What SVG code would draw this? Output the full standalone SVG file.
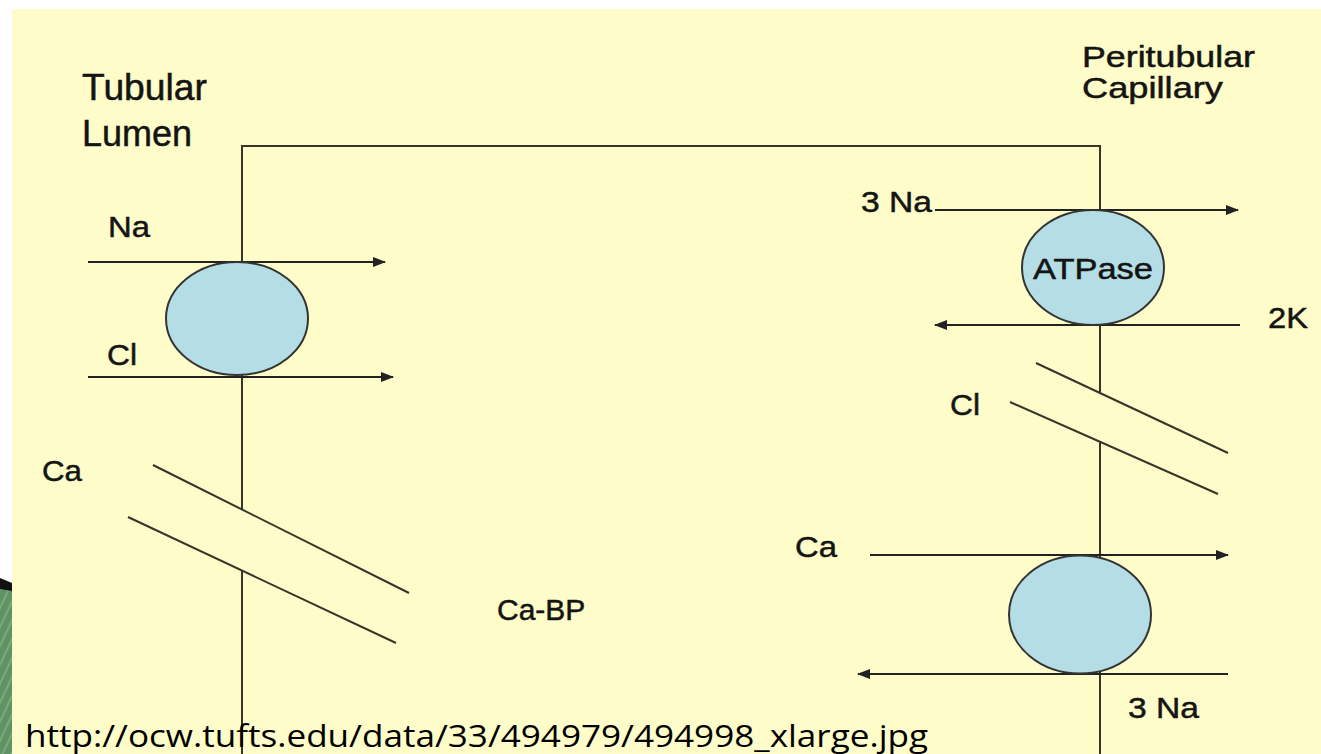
<svg xmlns="http://www.w3.org/2000/svg" width="1321" height="754" viewBox="0 0 1321 754">
<defs>
<marker id="ah" markerWidth="13" markerHeight="10" refX="12" refY="5" orient="auto" markerUnits="userSpaceOnUse">
<path d="M0,0 L13,5 L0,10 z" fill="#222"/>
</marker>
<pattern id="stripes" width="8" height="8" patternUnits="userSpaceOnUse" patternTransform="rotate(25)">
<rect width="8" height="8" fill="#5f9365"/>
<rect width="2" height="8" fill="#7aaa7c"/>
</pattern>
<style>
.ln{stroke:#35352a;stroke-width:2;fill:none}
.ar{stroke:#222;stroke-width:2;fill:none;marker-end:url(#ah)}
.cell{fill:#b5dde5;stroke:#333;stroke-width:2}
.lb{font-family:"Liberation Sans",Arial,sans-serif;font-size:30px;fill:#141414;stroke:#141414;stroke-width:0.5}
.hd{font-family:"Liberation Sans",Arial,sans-serif;font-size:37px;fill:#141414;stroke:#141414;stroke-width:0.5}
.url{font-family:"Open Sans","DejaVu Sans",sans-serif;font-size:31px;fill:#000}
</style>
</defs>
<rect width="1321" height="754" fill="#ffffff"/>
<rect x="12" y="9" width="1309" height="745" fill="#fefcc8"/>
<g id="decoration">
<rect x="0" y="586" width="12" height="168" fill="url(#stripes)"/>
<polygon points="0,578 12,583 12,591 0,589" fill="#111"/>
</g>
<g id="connectors">
<path class="ln" d="M242,509 L242,146 L1100,146 L1100,393"/>
<line class="ln" x1="242" y1="571" x2="242" y2="754"/>
<line class="ln" x1="1100" y1="442" x2="1100" y2="754"/>
<line class="ln" x1="153" y1="465" x2="409" y2="593"/>
<line class="ln" x1="128" y1="517" x2="396" y2="643"/>
<line class="ln" x1="1036" y1="363" x2="1228" y2="453"/>
<line class="ln" x1="1010" y1="402" x2="1218" y2="494"/>
<line class="ar" x1="88" y1="262" x2="385" y2="262"/>
<line class="ar" x1="88" y1="377" x2="393" y2="377"/>
<line class="ar" x1="935" y1="210" x2="1238" y2="210"/>
<line class="ar" x1="1240" y1="325" x2="935" y2="325"/>
<line class="ar" x1="870" y1="555" x2="1228" y2="555"/>
<line class="ar" x1="1228" y1="674" x2="858" y2="674"/>
</g>
<g id="cotransporter-left">
<ellipse class="cell" cx="237" cy="318.5" rx="71" ry="56.5"/>
</g>
<g id="atpase">
<ellipse class="cell" cx="1093" cy="267.5" rx="71" ry="57.5"/>
<text class="lb" x="1033" y="279" textLength="120" lengthAdjust="spacingAndGlyphs">ATPase</text>
</g>
<g id="exchanger-right">
<ellipse class="cell" cx="1080" cy="614.5" rx="71" ry="59"/>
</g>
<g id="labels">
<text class="hd" x="82" y="100" textLength="125" lengthAdjust="spacingAndGlyphs">Tubular</text>
<text class="hd" x="82" y="146" textLength="110" lengthAdjust="spacingAndGlyphs">Lumen</text>
<text class="lb" x="1082" y="67" textLength="173" lengthAdjust="spacingAndGlyphs">Peritubular</text>
<text class="lb" x="1082" y="98" textLength="141" lengthAdjust="spacingAndGlyphs">Capillary</text>
<text class="lb" x="108" y="237" textLength="42" lengthAdjust="spacingAndGlyphs">Na</text>
<text class="lb" x="107" y="365" textLength="30" lengthAdjust="spacingAndGlyphs">Cl</text>
<text class="lb" x="42" y="481" textLength="40" lengthAdjust="spacingAndGlyphs">Ca</text>
<text class="lb" x="497" y="620">Ca-BP</text>
<text class="lb" x="861" y="212" textLength="71" lengthAdjust="spacingAndGlyphs">3 Na</text>
<text class="lb" x="1268" y="328" textLength="40" lengthAdjust="spacingAndGlyphs">2K</text>
<text class="lb" x="950" y="415" textLength="30" lengthAdjust="spacingAndGlyphs">Cl</text>
<text class="lb" x="795" y="557" textLength="42" lengthAdjust="spacingAndGlyphs">Ca</text>
<text class="lb" x="1128" y="718" textLength="71" lengthAdjust="spacingAndGlyphs">3 Na</text>
<text class="url" x="25" y="747" textLength="903" lengthAdjust="spacingAndGlyphs">http://ocw.tufts.edu/data/33/494979/494998_xlarge.jpg</text>
</g>
</svg>
